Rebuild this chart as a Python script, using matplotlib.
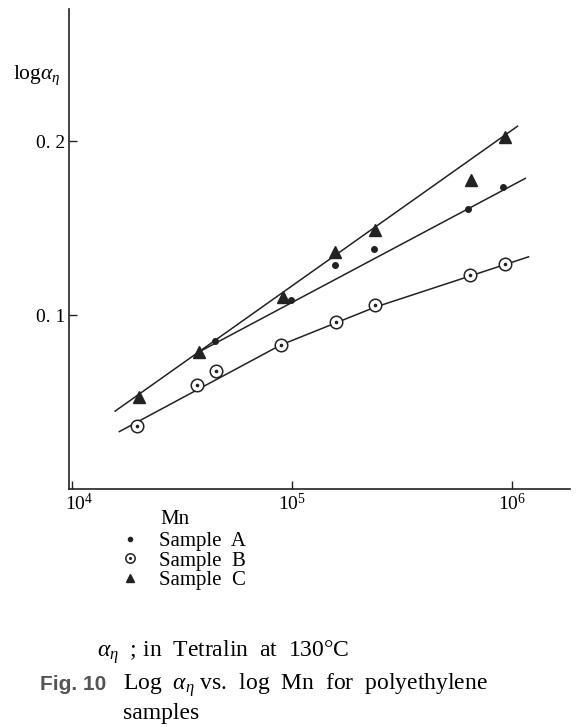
import numpy as np
import matplotlib
matplotlib.use('Agg')
import matplotlib.pyplot as plt
import matplotlib.transforms as mtransforms
from matplotlib.legend_handler import HandlerTuple

plt.rcParams['font.family'] = ['Liberation Serif', 'DejaVu Serif']
plt.rcParams['mathtext.fontset'] = 'custom'
plt.rcParams['mathtext.rm'] = 'Liberation Serif'
plt.rcParams['mathtext.it'] = 'Liberation Serif:italic'

# Dados (Mn, log alpha_eta)
mn_a = [4.47e4, 9.9e4, 1.57e5, 2.37e5, 6.32e5, 9.12e5]
log_a = [0.085, 0.1086, 0.1287, 0.138, 0.161, 0.1737]

mn_b = [1.97e4, 3.69e4, 4.51e4, 8.89e4, 1.58e5, 2.38e5, 6.44e5, 9.33e5]
log_b = [0.0364, 0.0598, 0.0678, 0.0828, 0.0962, 0.1057, 0.123, 0.1293]

mn_c = [2.02e4, 3.78e4, 9.08e4, 1.57e5, 2.38e5, 6.49e5, 9.29e5]
log_c = [0.053, 0.079, 0.1105, 0.136, 0.149, 0.1776, 0.2025]

# Retas/curvas ajustadas desenhadas à mão
fit_a_x = [3.8e4, 1.15e6]
fit_a_y = [0.079, 0.1786]
fit_b_x = [1.64e4, 8.89e4, 2.38e5, 1.19e6]
fit_b_y = [0.033, 0.0828, 0.1045, 0.1335]
fit_c_x = [1.57e4, 1.06e6]
fit_c_y = [0.0448, 0.2086]

xticks = [1e4, 1e5, 1e6]
xticklabels = ['$10^4$', '$10^5$', '$10^6$']
yticks = [0.1, 0.2]
yticklabels = ['0. 1', '0. 2']

ink = '#222222'

fig = plt.figure(figsize=(5.76, 7.27), dpi=100)
ax = fig.add_axes([69/576, 1 - 489/727, 501/576, 480/727])

ax.plot(fit_a_x, fit_a_y, color=ink, lw=1.1)
ax.plot(fit_b_x, fit_b_y, color=ink, lw=1.1)
ax.plot(fit_c_x, fit_c_y, color=ink, lw=1.1)

ha, = ax.plot(mn_a, log_a, 'o', ms=4, color=ink, ls='none')
hb1, = ax.plot(mn_b, log_b, 'o', ms=9, mfc='white', mec=ink, mew=1.1, ls='none')
hb2, = ax.plot(mn_b, log_b, 'o', ms=1.6, color=ink, ls='none')
hc, = ax.plot(mn_c, log_c, '^', ms=8, color=ink, ls='none')

ax.set_xscale('log')
ax.set_xlim(10**3.986, 10**6.264)
ax.set_ylim(0, 0.276)
ax.set_xticks(xticks)
ax.set_xticklabels(xticklabels, fontsize=14)
ax.minorticks_off()
ax.set_yticks(yticks)
ax.set_yticklabels(yticklabels, fontsize=14)
ax.tick_params(direction='in', length=6, width=1, color=ink, pad=3)
ax.tick_params(axis='x', pad=3)
# rótulo 10^4 deslocado para a direita, como no original
lab0 = ax.get_xticklabels()[0]
lab0.set_transform(lab0.get_transform() + mtransforms.ScaledTranslation(7/100, 0, fig.dpi_scale_trans))
for s in ['top', 'right']:
    ax.spines[s].set_visible(False)
for s in ['left', 'bottom']:
    ax.spines[s].set_linewidth(1.2)
    ax.spines[s].set_color(ink)

fig.text(13/576, 1 - 75/727, r'$\mathrm{log}\alpha_\eta$', fontsize=15.5, va='center', ha='left')
fig.text(160/576, 1 - 520/727, 'Mn', fontsize=15, va='center', ha='left')

fig.legend([ha, (hb1, hb2), hc], ['Sample  A', 'Sample  B', 'Sample  C'],
           handler_map={tuple: HandlerTuple(ndivide=1)},
           loc='upper left', bbox_to_anchor=(111/576, 1 - 521/727),
           frameon=False, fontsize=15, labelspacing=0.0, handlelength=0.8,
           handletextpad=1.0, borderpad=0, markerscale=0.75)

fig.text(97/576, 1 - 652/727, r'$\alpha_\eta$  ; in  Tetralin  at  130°C', fontsize=17, va='center', ha='left')
fig.text(40/576, 1 - 685/727, 'Fig. 10', fontsize=15, va='center', ha='left',
         family='Liberation Sans', weight='bold', color='#555555')
fig.text(123/576, 1 - 685/727, r'Log  $\alpha_\eta$ vs.  log  Mn  for  polyethylene', fontsize=17,
         va='center', ha='left')
fig.text(123/576, 1 - 714/727, 'samples', fontsize=17, va='center', ha='left')

fig.savefig('out.png', dpi=100)
